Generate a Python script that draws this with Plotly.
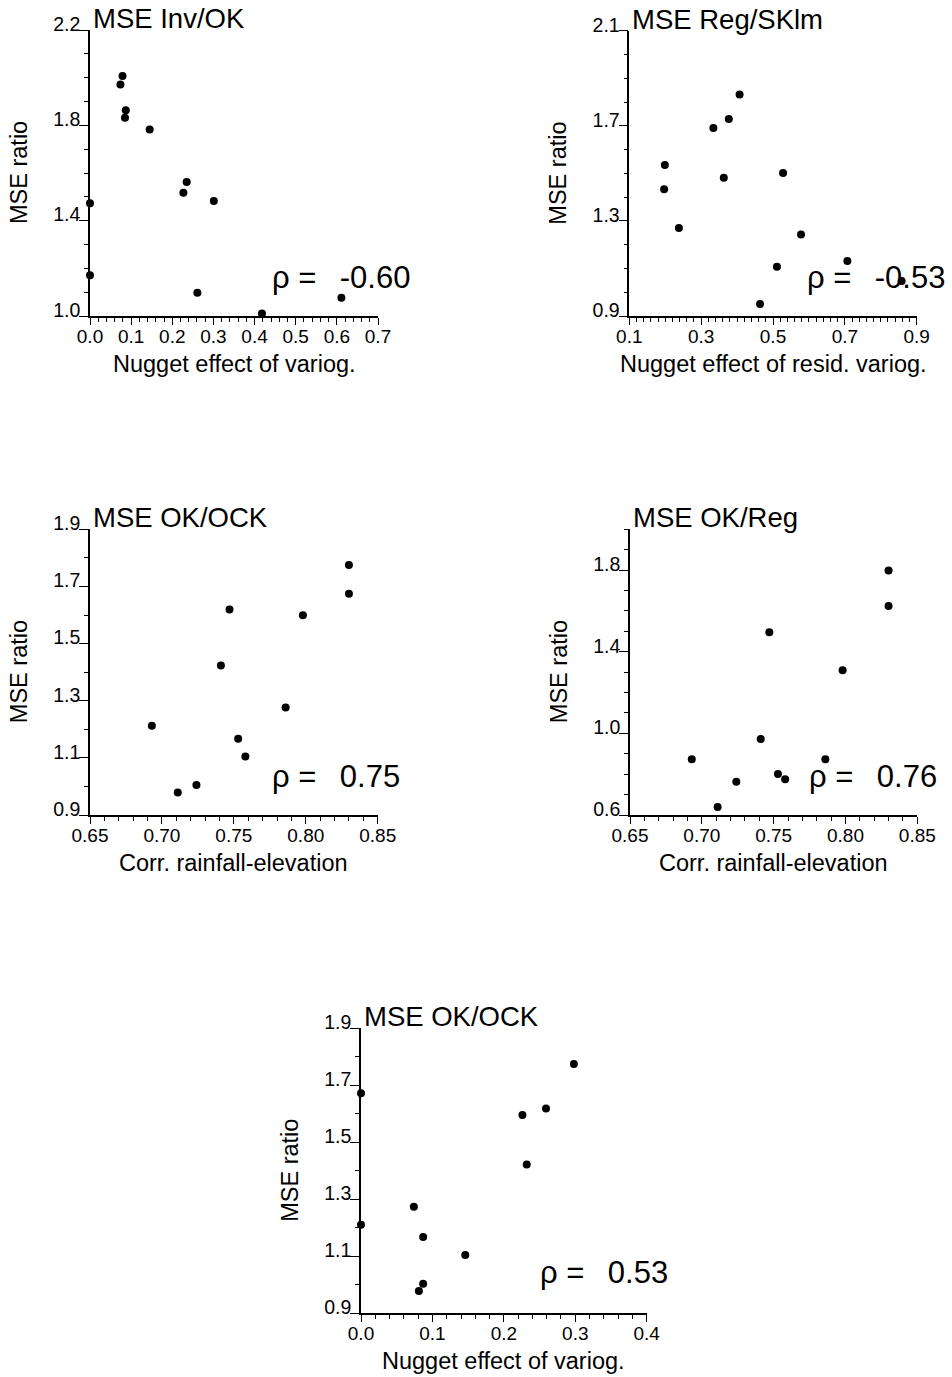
import plotly.graph_objects as go

# ---------------- data ----------------
inv_ok_nugget = [0.0, 0.0, 0.074, 0.079, 0.087, 0.085, 0.145, 0.227, 0.235, 0.301, 0.261, 0.418, 0.611]
inv_ok_mse = [1.473, 1.171, 1.971, 2.007, 1.863, 1.832, 1.783, 1.517, 1.562, 1.483, 1.098, 1.011, 1.077]

reg_sklm_nugget = [0.197, 0.199, 0.238, 0.334, 0.377, 0.363, 0.407, 0.464, 0.511, 0.528, 0.578, 0.707, 0.858]
reg_sklm_mse = [1.433, 1.535, 1.270, 1.691, 1.729, 1.482, 1.832, 0.950, 1.107, 1.501, 1.243, 1.131, 1.047]

corr_elev = [0.693, 0.711, 0.724, 0.741, 0.747, 0.753, 0.758, 0.786, 0.798, 0.830, 0.830]
ok_ock_mse = [1.212, 0.979, 1.005, 1.423, 1.619, 1.167, 1.105, 1.276, 1.599, 1.775, 1.674]
ok_reg_mse = [0.873, 0.639, 0.763, 0.972, 1.495, 0.801, 0.775, 0.873, 1.309, 1.798, 1.624]

ock_nugget = [0.0, 0.0, 0.074, 0.087, 0.087, 0.081, 0.146, 0.226, 0.232, 0.259, 0.298]
ock_mse = [1.672, 1.211, 1.274, 1.168, 1.004, 0.978, 1.105, 1.596, 1.422, 1.619, 1.775]

panel_titles = ["MSE Inv/OK", "MSE Reg/SKlm", "MSE OK/OCK", "MSE OK/Reg", "MSE OK/OCK"]
x_titles = ["Nugget effect of variog.", "Nugget effect of resid. variog.",
            "Corr. rainfall-elevation", "Corr. rainfall-elevation", "Nugget effect of variog."]
y_title = "MSE ratio"
rho_values = ["-0.60", "-0.53", "0.75", "0.76", "0.53"]

# ---------------- layout helpers ----------------
W, H = 952, 1377
FONT = "Liberation Sans, Arial, Helvetica, sans-serif"

# pixel boxes of the plotting areas in the window: (left, right, top, bottom)
boxes = [
    (90.0, 378.0, 30.0, 316.0),
    (629.3, 916.7, 30.7, 316.0),
    (90.0, 377.7, 529.3, 815.0),
    (630.0, 917.3, 529.3, 815.0),
    (361.0, 646.7, 1028.3, 1313.3),
]
x_axes = [
    dict(range=[0, 0.7], tick0=0, dtick=0.1, minor=0.02, fmt=".1f"),
    dict(range=[0.1, 0.9], tick0=0.1, dtick=0.2, minor=0.02, fmt=".1f"),
    dict(range=[0.65, 0.85], tick0=0.65, dtick=0.05, minor=0.01, fmt=".2f"),
    dict(range=[0.65, 0.85], tick0=0.65, dtick=0.05, minor=0.01, fmt=".2f"),
    dict(range=[0, 0.4], tick0=0, dtick=0.1, minor=0.02, fmt=".1f"),
]
y_axes = [
    dict(range=[1.0, 2.2], tick0=1.0, dtick=0.4, minor=0.1),
    dict(range=[0.9, 2.1], tick0=0.9, dtick=0.4, minor=0.1),
    dict(range=[0.9, 1.9], tick0=0.9, dtick=0.2, minor=0.1),
    dict(range=[0.6, 2.0], tick0=0.6, dtick=0.4, minor=0.1),
    dict(range=[0.9, 1.9], tick0=0.9, dtick=0.2, minor=0.1),
]
rho_pos = [(270, 277), (805, 277), (270, 776), (807, 776), (538, 1272)]
series = [
    (inv_ok_nugget, inv_ok_mse),
    (reg_sklm_nugget, reg_sklm_mse),
    (corr_elev, ok_ock_mse),
    (corr_elev, ok_reg_mse),
    (ock_nugget, ock_mse),
]


def px_x(p):
    return p / W


def px_y(p):
    return 1 - p / H


fig = go.Figure()
annotations = []
layout_axes = {}

for i, ((xs, ys), box, xa, ya) in enumerate(zip(series, boxes, x_axes, y_axes)):
    n = "" if i == 0 else str(i + 1)
    xref = "x" + n
    yref = "y" + n
    fig.add_trace(go.Scatter(
        x=xs, y=ys, mode="markers", xaxis=xref, yaxis=yref,
        marker=dict(color="black", size=8), cliponaxis=False, showlegend=False,
    ))
    l, r, t, b = box
    layout_axes["xaxis" + n] = dict(
        domain=[px_x(l), px_x(r)], anchor=yref, range=xa["range"], automargin=False,
        tickmode="linear", tick0=xa["tick0"], dtick=xa["dtick"], tickformat=xa["fmt"],
        ticks="outside", ticklen=7, tickwidth=1.3, tickcolor="black",
        minor=dict(ticks="outside", ticklen=4, tickwidth=1, tickcolor="black",
                   tick0=xa["tick0"], dtick=xa["minor"], showgrid=False),
        showline=True, linecolor="black", linewidth=1.5, mirror=False,
        showgrid=False, zeroline=False, ticklabelstandoff=-5,
        tickfont=dict(family=FONT, size=19, color="black"),
    )
    layout_axes["yaxis" + n] = dict(
        domain=[px_y(b), px_y(t)], anchor=xref, range=ya["range"], automargin=False,
        tickmode="linear", tick0=ya["tick0"], dtick=ya["dtick"], tickformat=".1f",
        ticks="outside", ticklen=9, tickwidth=1.3, tickcolor="black",
        minor=dict(ticks="outside", ticklen=4, tickwidth=1, tickcolor="black",
                   tick0=ya["tick0"], dtick=ya["minor"], showgrid=False),
        showline=True, linecolor="black", linewidth=1.5, mirror=False,
        showgrid=False, zeroline=False, ticklabelshift=-6, ticklabelstandoff=-5,
        tickfont=dict(family=FONT, size=19.5, color="black"),
    )
    # panel title
    annotations.append(dict(
        text=panel_titles[i], xref="paper", yref="paper",
        x=px_x(l + 1), y=px_y(t - 11.5), xanchor="left", yanchor="middle",
        showarrow=False, font=dict(family=FONT, size=27.5, color="black"),
    ))
    # x-axis title
    annotations.append(dict(
        text=x_titles[i], xref="paper", yref="paper",
        x=px_x((l + r) / 2), y=px_y(b + 47.5), xanchor="center", yanchor="middle",
        showarrow=False, font=dict(family=FONT, size=23.5, color="black"),
    ))
    # y-axis title
    annotations.append(dict(
        text=y_title, xref="paper", yref="paper",
        x=px_x(l - 71), y=px_y((t + b) / 2), xanchor="center", yanchor="middle",
        textangle=-90, showarrow=False, font=dict(family=FONT, size=23.5, color="black"),
    ))
    # correlation coefficient
    rx, ry = rho_pos[i]
    annotations.append(dict(
        text="\u03c1 =\u00a0\u2009 " + rho_values[i], xref="paper", yref="paper",
        x=px_x(rx), y=px_y(ry), xanchor="left", yanchor="middle",
        showarrow=False, font=dict(family=FONT, size=31, color="black"),
    ))

fig.update_layout(
    width=W, height=H, margin=dict(l=0, r=0, t=0, b=0, autoexpand=False),
    paper_bgcolor="white", plot_bgcolor="white",
    annotations=annotations, showlegend=False, **layout_axes,
)

# let the figure fill the window exactly (no default page margin), no toolbar
fig.write_html("out.html", config={"displayModeBar": False},
               post_script="document.body.style.margin='0px';")
